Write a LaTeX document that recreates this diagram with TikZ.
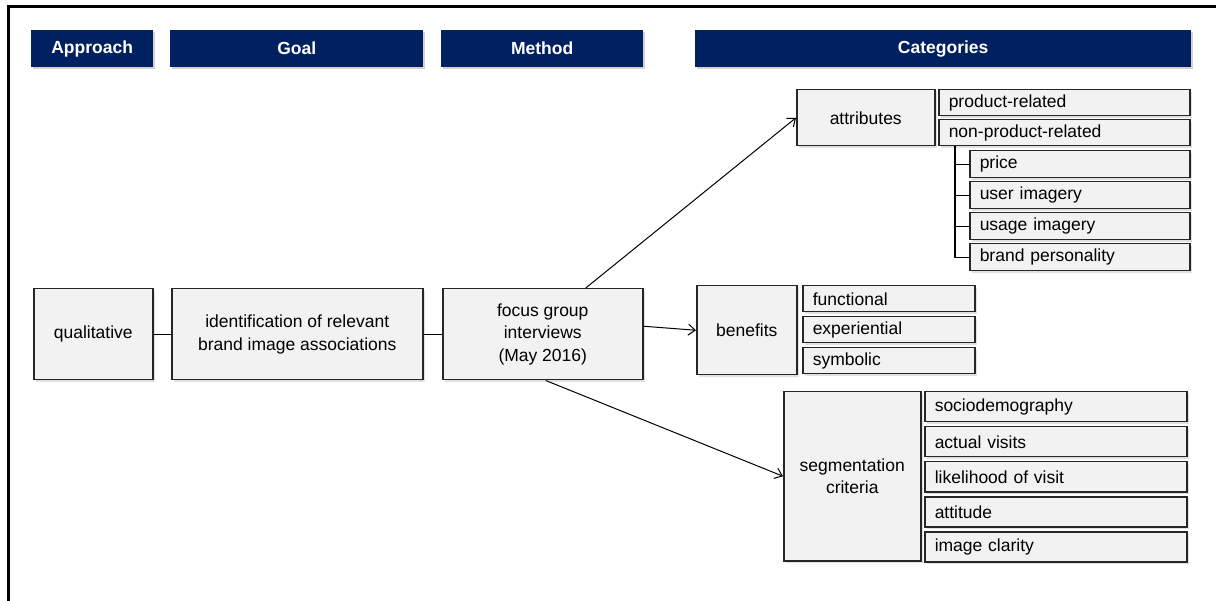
\documentclass[tikz,border=0pt]{standalone}
\usepackage{fontspec}
\setmainfont{Liberation Sans}
\usepackage{tikz}
\usetikzlibrary{calc}
\usetikzlibrary{shadows}
\usetikzlibrary{arrows.meta}
\definecolor{headblue}{HTML}{002060}
\definecolor{cellgray}{HTML}{F2F2F2}
\definecolor{edgegray}{HTML}{262626}
\tikzset{
  headcell/.style={fill=headblue, text=white, font=\fontsize{17.5}{19}\selectfont\bfseries, minimum height=37pt, inner sep=0pt,
    drop shadow={fill=gray!70, opacity=0.5, shadow xshift=2pt, shadow yshift=-2pt}},
  cell/.style={draw=edgegray, line width=1.5pt, fill=cellgray, font=\fontsize{17.5}{22.5}\selectfont, align=center, inner sep=0pt,
    drop shadow={fill=gray!60, opacity=0.4, shadow xshift=2pt, shadow yshift=-2pt}},
  arr/.style={-{Straight Barb[length=7pt, width=11pt]}, line width=1pt},
  link/.style={line width=1.2pt}
}
\newcommand{\headbox}[5]{\node[headcell, anchor=north west, minimum width=#4pt] (#1) at (#2,#3) {#5};}
\newcommand{\mainbox}[6]{\node[cell, anchor=north west, minimum width=#4pt, minimum height=#5pt] (#1) at (#2,#3) {#6};}
\newcommand{\leafbox}[6]{\node[cell, anchor=north west, minimum width=#4pt, minimum height=#5pt, text width=#4pt-20pt, align=left] (#1) at (#2,#3) {#6};}

\begin{document}
\begin{tikzpicture}[x=1pt, y=-1pt]
    \useasboundingbox (0,0) rectangle (1216,601);
    % frame
    \draw[line width=3pt] (8,601) -- (8,7) -- (1216,7);
    % header
    \headbox{approach}{31}{30}{122}{Approach}
    \headbox{goal}{170}{30}{253}{Goal}
    \headbox{method}{441}{30}{202}{Method}
    \headbox{categories}{695}{30}{496}{Categories}
    % main row
    \mainbox{qual}{33}{288}{119}{91}{qualitative}
    \mainbox{ident}{171}{288}{251}{91}{identification of relevant\\brand image associations}
    \mainbox{focus}{442}{288}{200}{91}{focus group\\interviews\\(May 2016)}
    \draw[link] (qual) -- (ident);
    \draw[link] (ident) -- (focus);
    % attributes
    \mainbox{attributes}{796}{89}{138}{56}{attributes}
    \leafbox{prod}{938}{89}{251}{26}{product-related}
    \leafbox{nonprod}{938}{119}{251}{26}{non-product-related}
    \leafbox{price}{969}{150}{220}{27}{price}
    \leafbox{user}{969}{181}{220}{27}{user imagery}
    \leafbox{usage}{969}{212}{220}{27}{usage imagery}
    \leafbox{brand}{969}{243}{220}{27}{brand personality}
    \coordinate (trunk) at ($(nonprod.south west)+(17,0)$);
    \draw[link] (trunk) |- (brand.west);
    \foreach \n in {price,user,usage}
        \draw[link] (trunk |- \n.west) -- (\n.west);
    % benefits
    \mainbox{benefits}{696}{285}{100}{89}{benefits}
    \leafbox{functional}{802}{285}{172}{26}{functional}
    \leafbox{experiential}{802}{316}{172}{26}{experiential}
    \leafbox{symbolic}{802}{347}{172}{26}{symbolic}
    % segmentation
    \mainbox{segment}{783}{391}{137}{169}{segmentation\\criteria}
    \leafbox{socio}{924}{391}{262}{30}{sociodemography}
    \leafbox{visits}{924}{426}{262}{30}{actual visits}
    \leafbox{likely}{924}{461}{262}{30}{likelihood of visit}
    \leafbox{attitude}{924}{496}{262}{30}{attitude}
    \leafbox{clarity}{924}{531}{262}{30}{image clarity}
    % arrows
    \draw[arr] ([xshift=43pt]focus.north) -- (attributes.west);
    \draw[arr] ([yshift=8pt]focus.east) -- (benefits.west);
    \draw[arr] ([xshift=3pt]focus.south) -- (segment.west);
\end{tikzpicture}
\end{document}
